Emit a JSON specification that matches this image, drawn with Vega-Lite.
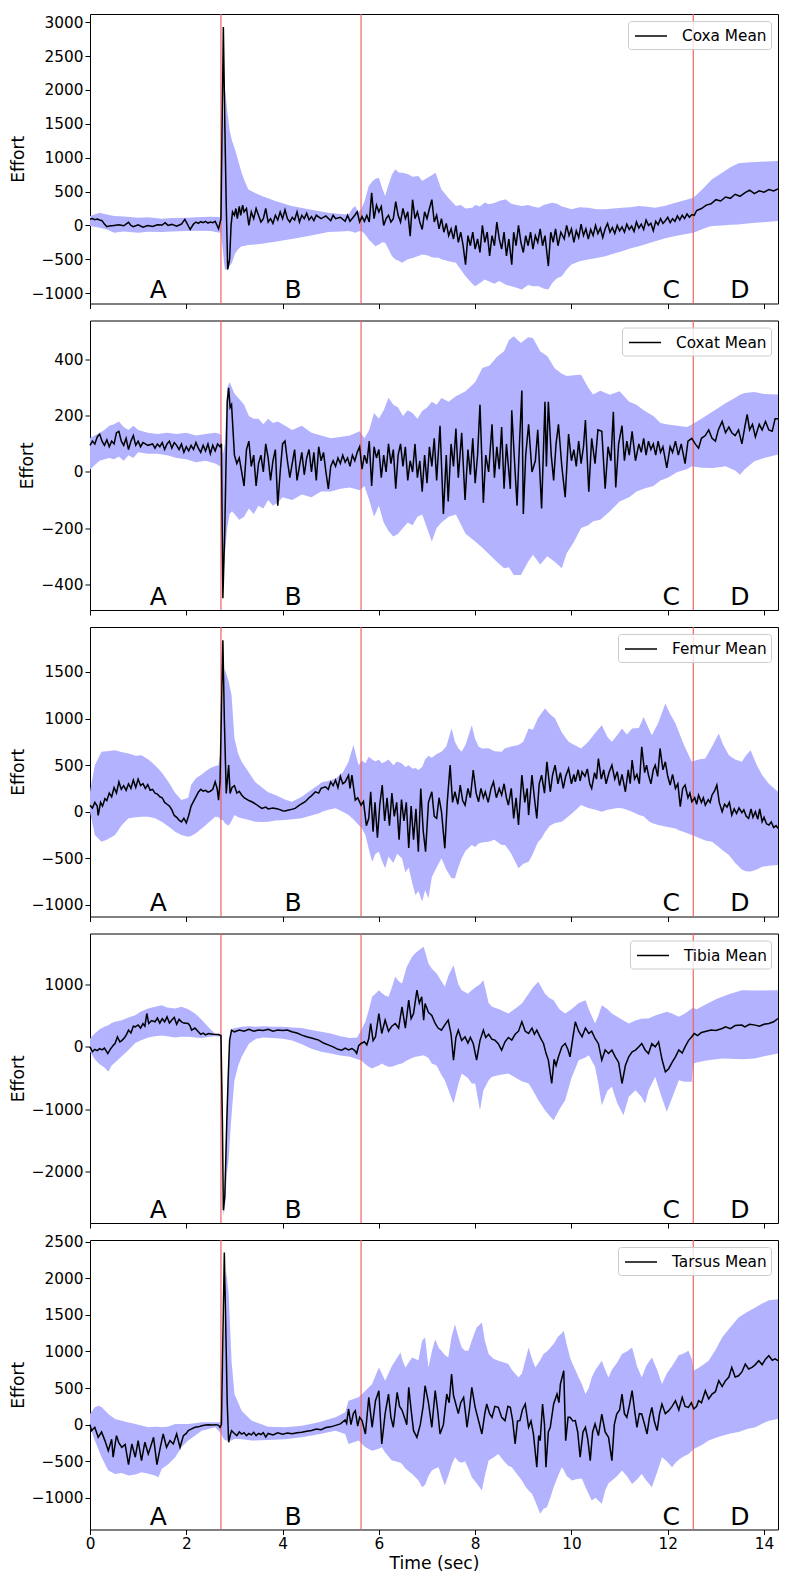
{
"$schema": "https://vega.github.io/schema/vega-lite/v6.json",
"background": "white",
"padding": {"left": 8, "top": 12, "right": 10, "bottom": 5},
"config": {
  "font": "DejaVu Sans",
  "view": {"stroke": "#000", "strokeWidth": 1},
  "axis": {"labelFont": "DejaVu Sans", "labelFontSize": 15.3, "labelColor": "#000", "titleFont": "DejaVu Sans", "titleFontSize": 17.2, "titleFontWeight": "normal", "titleColor": "#000", "tickColor": "#000", "tickSize": 5, "tickWidth": 1, "labelPadding": 2, "domain": false, "grid": false, "labelFlush": false, "labelOverlap": false},
  "axisY": {"titlePadding": 4},
  "axisX": {"titlePadding": 3},
  "legend": {"orient": "top-right", "offset": 7, "padding": 4, "fillColor": "rgba(255,255,255,0.8)", "strokeColor": "#cccccc", "cornerRadius": 3, "labelFont": "DejaVu Sans", "labelFontSize": 15.3, "labelColor": "#000", "symbolType": "M-1.6,0H1.6", "symbolSize": 400, "symbolStrokeWidth": 1.5, "symbolStrokeColor": "#000", "symbolOffset": 8, "labelOffset": 20}
},
"datasets": {
"vl": [{"x":2.72},{"x":5.63},{"x":12.53}],
"lt": [{"x":1.42,"t":"A"},{"x":4.22,"t":"B"},{"x":12.07,"t":"C"},{"x":13.5,"t":"D"}],
"m1": [{"x":0,"m":90},{"x":0.05,"m":100},{"x":0.1,"m":85},{"x":0.15,"m":95},{"x":0.2,"m":80},{"x":0.25,"m":70},{"x":0.3,"m":20},{"x":0.35,"m":-20},{"x":0.4,"m":-10},{"x":0.5,"m":0},{"x":0.6,"m":10},{"x":0.7,"m":-5},{"x":0.8,"m":45},{"x":0.85,"m":0},{"x":0.9,"m":-20},{"x":1.0,"m":10},{"x":1.1,"m":-25},{"x":1.2,"m":0},{"x":1.3,"m":-15},{"x":1.4,"m":10},{"x":1.5,"m":5},{"x":1.56,"m":40},{"x":1.62,"m":0},{"x":1.7,"m":15},{"x":1.8,"m":-10},{"x":1.9,"m":20},{"x":1.97,"m":90},{"x":2.03,"m":10},{"x":2.08,"m":-60},{"x":2.15,"m":20},{"x":2.2,"m":50},{"x":2.25,"m":30},{"x":2.3,"m":55},{"x":2.35,"m":40},{"x":2.4,"m":60},{"x":2.45,"m":35},{"x":2.5,"m":50},{"x":2.55,"m":40},{"x":2.6,"m":60},{"x":2.67,"m":-50},{"x":2.72,"m":100},{"x":2.77,"m":2930},{"x":2.8,"m":1500},{"x":2.83,"m":300},{"x":2.86,"m":-650},{"x":2.9,"m":-500},{"x":2.93,"m":0},{"x":2.96,"m":200},{"x":3.0,"m":150},{"x":3.03,"m":250},{"x":3.06,"m":100},{"x":3.1,"m":280},{"x":3.13,"m":150},{"x":3.17,"m":300},{"x":3.2,"m":200},{"x":3.25,"m":250},{"x":3.3,"m":0},{"x":3.35,"m":200},{"x":3.4,"m":100},{"x":3.45,"m":250},{"x":3.5,"m":150},{"x":3.55,"m":50},{"x":3.6,"m":100},{"x":3.65,"m":250},{"x":3.7,"m":50},{"x":3.75,"m":100},{"x":3.8,"m":30},{"x":3.85,"m":150},{"x":3.9,"m":80},{"x":3.95,"m":200},{"x":4.0,"m":100},{"x":4.05,"m":230},{"x":4.1,"m":100},{"x":4.15,"m":50},{"x":4.2,"m":120},{"x":4.25,"m":80},{"x":4.3,"m":200},{"x":4.35,"m":50},{"x":4.4,"m":150},{"x":4.45,"m":100},{"x":4.5,"m":180},{"x":4.55,"m":80},{"x":4.6,"m":130},{"x":4.65,"m":70},{"x":4.7,"m":150},{"x":4.8,"m":100},{"x":4.9,"m":140},{"x":5.0,"m":70},{"x":5.05,"m":150},{"x":5.1,"m":100},{"x":5.2,"m":120},{"x":5.3,"m":60},{"x":5.35,"m":150},{"x":5.4,"m":60},{"x":5.5,"m":150},{"x":5.55,"m":200},{"x":5.6,"m":50},{"x":5.65,"m":130},{"x":5.7,"m":60},{"x":5.75,"m":150},{"x":5.8,"m":50},{"x":5.85,"m":480},{"x":5.9,"m":100},{"x":5.95,"m":300},{"x":6.0,"m":200},{"x":6.05,"m":280},{"x":6.1,"m":0},{"x":6.15,"m":100},{"x":6.2,"m":150},{"x":6.25,"m":50},{"x":6.3,"m":100},{"x":6.35,"m":350},{"x":6.4,"m":150},{"x":6.45,"m":50},{"x":6.5,"m":250},{"x":6.55,"m":100},{"x":6.6,"m":200},{"x":6.65,"m":-160},{"x":6.7,"m":380},{"x":6.75,"m":100},{"x":6.8,"m":200},{"x":6.85,"m":50},{"x":6.9,"m":-60},{"x":6.95,"m":200},{"x":7.0,"m":100},{"x":7.05,"m":250},{"x":7.1,"m":380},{"x":7.15,"m":50},{"x":7.2,"m":150},{"x":7.25,"m":-50},{"x":7.3,"m":100},{"x":7.35,"m":-100},{"x":7.4,"m":30},{"x":7.45,"m":-150},{"x":7.5,"m":-50},{"x":7.55,"m":-200},{"x":7.6,"m":0},{"x":7.65,"m":-250},{"x":7.7,"m":-100},{"x":7.75,"m":-300},{"x":7.8,"m":-580},{"x":7.85,"m":-150},{"x":7.9,"m":-300},{"x":7.95,"m":-100},{"x":8.0,"m":-350},{"x":8.05,"m":-200},{"x":8.1,"m":-400},{"x":8.15,"m":0},{"x":8.2,"m":-250},{"x":8.25,"m":-100},{"x":8.3,"m":-450},{"x":8.35,"m":-150},{"x":8.4,"m":-300},{"x":8.45,"m":50},{"x":8.5,"m":-200},{"x":8.55,"m":-350},{"x":8.6,"m":-100},{"x":8.65,"m":-450},{"x":8.7,"m":-200},{"x":8.76,"m":-580},{"x":8.8,"m":-100},{"x":8.85,"m":-300},{"x":8.9,"m":0},{"x":8.95,"m":-250},{"x":9.0,"m":-400},{"x":9.05,"m":-150},{"x":9.1,"m":-300},{"x":9.15,"m":-100},{"x":9.2,"m":-350},{"x":9.25,"m":-150},{"x":9.3,"m":-250},{"x":9.35,"m":-50},{"x":9.4,"m":-300},{"x":9.45,"m":-150},{"x":9.52,"m":-600},{"x":9.57,"m":-100},{"x":9.62,"m":-250},{"x":9.67,"m":-50},{"x":9.72,"m":-300},{"x":9.78,"m":-100},{"x":9.85,"m":-200},{"x":9.9,"m":0},{"x":9.95,"m":-150},{"x":10.0,"m":-50},{"x":10.05,"m":-250},{"x":10.1,"m":-80},{"x":10.15,"m":-180},{"x":10.2,"m":20},{"x":10.25,"m":-150},{"x":10.3,"m":-50},{"x":10.35,"m":-200},{"x":10.4,"m":-60},{"x":10.45,"m":-150},{"x":10.5,"m":0},{"x":10.55,"m":-120},{"x":10.6,"m":-40},{"x":10.65,"m":-180},{"x":10.7,"m":-50},{"x":10.75,"m":30},{"x":10.8,"m":-100},{"x":10.85,"m":-30},{"x":10.9,"m":-120},{"x":10.95,"m":0},{"x":11.0,"m":-80},{"x":11.05,"m":-20},{"x":11.1,"m":-100},{"x":11.15,"m":20},{"x":11.2,"m":-60},{"x":11.25,"m":-10},{"x":11.3,"m":-90},{"x":11.35,"m":50},{"x":11.4,"m":-40},{"x":11.45,"m":20},{"x":11.5,"m":-60},{"x":11.55,"m":80},{"x":11.6,"m":0},{"x":11.65,"m":30},{"x":11.7,"m":-80},{"x":11.75,"m":60},{"x":11.8,"m":10},{"x":11.85,"m":100},{"x":11.9,"m":30},{"x":11.95,"m":70},{"x":12.0,"m":120},{"x":12.05,"m":40},{"x":12.1,"m":100},{"x":12.15,"m":60},{"x":12.2,"m":140},{"x":12.25,"m":80},{"x":12.3,"m":150},{"x":12.35,"m":100},{"x":12.4,"m":170},{"x":12.45,"m":120},{"x":12.5,"m":160},{"x":12.55,"m":150},{"x":12.6,"m":220},{"x":12.7,"m":250},{"x":12.8,"m":300},{"x":12.9,"m":320},{"x":13.0,"m":380},{"x":13.1,"m":360},{"x":13.2,"m":420},{"x":13.3,"m":400},{"x":13.4,"m":460},{"x":13.5,"m":430},{"x":13.6,"m":480},{"x":13.7,"m":520},{"x":13.8,"m":470},{"x":13.9,"m":510},{"x":14.0,"m":490},{"x":14.1,"m":530},{"x":14.2,"m":510},{"x":14.29,"m":540}],
"b1": [{"x":0,"l":-10,"h":138},{"x":0.2,"l":-35,"h":187},{"x":0.35,"l":-60,"h":160},{"x":0.5,"l":-108,"h":138},{"x":0.7,"l":-90,"h":130},{"x":1.0,"l":-108,"h":113},{"x":1.2,"l":-95,"h":120},{"x":1.5,"l":-99,"h":99},{"x":1.7,"l":-90,"h":110},{"x":2.0,"l":-84,"h":113},{"x":2.2,"l":-80,"h":120},{"x":2.5,"l":-84,"h":128},{"x":2.7,"l":-108,"h":125},{"x":2.72,"l":-100,"h":400},{"x":2.75,"l":-300,"h":1300},{"x":2.8,"l":-650,"h":2050},{"x":2.85,"l":-650,"h":1700},{"x":2.9,"l":-600,"h":1400},{"x":2.95,"l":-550,"h":1250},{"x":3.01,"l":-420,"h":1124},{"x":3.08,"l":-350,"h":950},{"x":3.15,"l":-306,"h":779},{"x":3.22,"l":-300,"h":640},{"x":3.29,"l":-290,"h":532},{"x":3.43,"l":-281,"h":480},{"x":3.57,"l":-270,"h":434},{"x":3.7,"l":-256,"h":400},{"x":3.85,"l":-240,"h":360},{"x":4.12,"l":-207,"h":300},{"x":4.19,"l":-200,"h":286},{"x":4.54,"l":-158,"h":237},{"x":4.95,"l":-99,"h":187},{"x":5.2,"l":-90,"h":170},{"x":5.37,"l":-84,"h":163},{"x":5.45,"l":-95,"h":250},{"x":5.51,"l":-108,"h":286},{"x":5.57,"l":-90,"h":200},{"x":5.63,"l":-84,"h":237},{"x":5.7,"l":-120,"h":350},{"x":5.79,"l":-207,"h":582},{"x":5.86,"l":-260,"h":650},{"x":5.93,"l":-306,"h":690},{"x":6.0,"l":-280,"h":705},{"x":6.07,"l":-250,"h":550},{"x":6.13,"l":-256,"h":434},{"x":6.2,"l":-350,"h":600},{"x":6.27,"l":-453,"h":750},{"x":6.34,"l":-500,"h":828},{"x":6.41,"l":-520,"h":780},{"x":6.48,"l":-552,"h":779},{"x":6.6,"l":-500,"h":760},{"x":6.7,"l":-480,"h":720},{"x":6.82,"l":-453,"h":730},{"x":6.9,"l":-429,"h":656},{"x":7.0,"l":-440,"h":700},{"x":7.1,"l":-470,"h":740},{"x":7.18,"l":-478,"h":779},{"x":7.24,"l":-478,"h":650},{"x":7.3,"l":-500,"h":532},{"x":7.45,"l":-530,"h":400},{"x":7.6,"l":-552,"h":286},{"x":7.7,"l":-650,"h":300},{"x":7.8,"l":-749,"h":250},{"x":7.94,"l":-860,"h":261},{"x":8.0,"l":-897,"h":300},{"x":8.1,"l":-850,"h":280},{"x":8.2,"l":-800,"h":340},{"x":8.28,"l":-823,"h":311},{"x":8.4,"l":-860,"h":330},{"x":8.5,"l":-820,"h":360},{"x":8.63,"l":-873,"h":385},{"x":8.75,"l":-900,"h":320},{"x":8.86,"l":-920,"h":300},{"x":8.97,"l":-947,"h":286},{"x":9.1,"l":-880,"h":300},{"x":9.2,"l":-900,"h":280},{"x":9.32,"l":-897,"h":261},{"x":9.42,"l":-930,"h":300},{"x":9.52,"l":-947,"h":320},{"x":9.6,"l":-850,"h":335},{"x":9.7,"l":-780,"h":320},{"x":9.8,"l":-749,"h":280},{"x":9.9,"l":-650,"h":260},{"x":10.0,"l":-577,"h":237},{"x":10.17,"l":-530,"h":270},{"x":10.35,"l":-503,"h":261},{"x":10.52,"l":-480,"h":240},{"x":10.7,"l":-454,"h":237},{"x":10.87,"l":-420,"h":250},{"x":11.05,"l":-380,"h":261},{"x":11.22,"l":-340,"h":270},{"x":11.4,"l":-306,"h":286},{"x":11.57,"l":-270,"h":275},{"x":11.74,"l":-232,"h":261},{"x":11.95,"l":-190,"h":290},{"x":12.16,"l":-158,"h":335},{"x":12.35,"l":-130,"h":370},{"x":12.53,"l":-108,"h":409},{"x":12.7,"l":-60,"h":520},{"x":12.85,"l":-20,"h":631},{"x":12.92,"l":-10,"h":680},{"x":13.13,"l":0,"h":779},{"x":13.3,"l":10,"h":860},{"x":13.47,"l":15,"h":917},{"x":13.65,"l":30,"h":930},{"x":13.82,"l":39,"h":937},{"x":14.05,"l":50,"h":945},{"x":14.29,"l":64,"h":951}],
"m2": [{"x":0,"m":95},{"x":0.05,"m":110},{"x":0.1,"m":100},{"x":0.15,"m":125},{"x":0.2,"m":135},{"x":0.25,"m":110},{"x":0.3,"m":95},{"x":0.35,"m":115},{"x":0.4,"m":90},{"x":0.45,"m":110},{"x":0.5,"m":100},{"x":0.55,"m":140},{"x":0.6,"m":145},{"x":0.65,"m":110},{"x":0.7,"m":95},{"x":0.75,"m":120},{"x":0.8,"m":80},{"x":0.85,"m":110},{"x":0.9,"m":130},{"x":0.95,"m":95},{"x":1.0,"m":110},{"x":1.05,"m":90},{"x":1.1,"m":105},{"x":1.15,"m":100},{"x":1.2,"m":95},{"x":1.3,"m":100},{"x":1.35,"m":85},{"x":1.4,"m":100},{"x":1.45,"m":90},{"x":1.5,"m":105},{"x":1.55,"m":80},{"x":1.6,"m":100},{"x":1.65,"m":110},{"x":1.7,"m":85},{"x":1.75,"m":105},{"x":1.8,"m":95},{"x":1.85,"m":80},{"x":1.9,"m":100},{"x":1.95,"m":70},{"x":2.0,"m":90},{"x":2.05,"m":75},{"x":2.1,"m":95},{"x":2.15,"m":80},{"x":2.2,"m":105},{"x":2.25,"m":85},{"x":2.3,"m":70},{"x":2.35,"m":95},{"x":2.4,"m":75},{"x":2.45,"m":100},{"x":2.5,"m":65},{"x":2.55,"m":95},{"x":2.6,"m":75},{"x":2.65,"m":100},{"x":2.7,"m":90},{"x":2.73,"m":100},{"x":2.76,"m":-450},{"x":2.8,"m":-200},{"x":2.85,"m":250},{"x":2.88,"m":300},{"x":2.91,"m":230},{"x":2.94,"m":240},{"x":2.97,"m":150},{"x":3.0,"m":60},{"x":3.05,"m":30},{"x":3.1,"m":50},{"x":3.15,"m":0},{"x":3.2,"m":-50},{"x":3.25,"m":80},{"x":3.3,"m":110},{"x":3.35,"m":20},{"x":3.4,"m":60},{"x":3.45,"m":-50},{"x":3.5,"m":30},{"x":3.55,"m":60},{"x":3.6,"m":0},{"x":3.65,"m":100},{"x":3.7,"m":50},{"x":3.75,"m":-30},{"x":3.8,"m":40},{"x":3.85,"m":80},{"x":3.9,"m":-120},{"x":3.95,"m":0},{"x":4.0,"m":100},{"x":4.05,"m":110},{"x":4.1,"m":40},{"x":4.15,"m":-20},{"x":4.2,"m":30},{"x":4.25,"m":80},{"x":4.3,"m":-30},{"x":4.35,"m":20},{"x":4.4,"m":70},{"x":4.45,"m":-10},{"x":4.5,"m":50},{"x":4.55,"m":80},{"x":4.6,"m":0},{"x":4.65,"m":70},{"x":4.7,"m":-30},{"x":4.75,"m":90},{"x":4.8,"m":40},{"x":4.85,"m":70},{"x":4.9,"m":0},{"x":4.95,"m":-60},{"x":5.0,"m":20},{"x":5.05,"m":40},{"x":5.1,"m":20},{"x":5.15,"m":50},{"x":5.2,"m":30},{"x":5.25,"m":60},{"x":5.3,"m":35},{"x":5.35,"m":50},{"x":5.4,"m":20},{"x":5.45,"m":60},{"x":5.5,"m":40},{"x":5.55,"m":70},{"x":5.6,"m":90},{"x":5.65,"m":10},{"x":5.7,"m":60},{"x":5.75,"m":30},{"x":5.8,"m":110},{"x":5.85,"m":-50},{"x":5.9,"m":90},{"x":5.95,"m":50},{"x":6.0,"m":80},{"x":6.05,"m":-20},{"x":6.1,"m":60},{"x":6.15,"m":0},{"x":6.2,"m":100},{"x":6.25,"m":30},{"x":6.3,"m":80},{"x":6.35,"m":-60},{"x":6.4,"m":60},{"x":6.45,"m":100},{"x":6.5,"m":20},{"x":6.55,"m":90},{"x":6.6,"m":-30},{"x":6.65,"m":40},{"x":6.7,"m":0},{"x":6.75,"m":100},{"x":6.8,"m":-20},{"x":6.85,"m":40},{"x":6.9,"m":-70},{"x":6.95,"m":60},{"x":7.0,"m":-40},{"x":7.05,"m":90},{"x":7.1,"m":20},{"x":7.15,"m":120},{"x":7.2,"m":-30},{"x":7.27,"m":165},{"x":7.34,"m":-150},{"x":7.4,"m":60},{"x":7.44,"m":-105},{"x":7.5,"m":100},{"x":7.55,"m":20},{"x":7.6,"m":155},{"x":7.65,"m":-20},{"x":7.72,"m":140},{"x":7.79,"m":-100},{"x":7.85,"m":80},{"x":7.9,"m":-10},{"x":7.95,"m":120},{"x":8.0,"m":-40},{"x":8.05,"m":60},{"x":8.1,"m":240},{"x":8.17,"m":-110},{"x":8.22,"m":60},{"x":8.28,"m":0},{"x":8.35,"m":170},{"x":8.4,"m":-20},{"x":8.45,"m":90},{"x":8.5,"m":10},{"x":8.55,"m":160},{"x":8.6,"m":-60},{"x":8.65,"m":100},{"x":8.73,"m":-60},{"x":8.76,"m":220},{"x":8.82,"m":30},{"x":8.87,"m":-120},{"x":8.92,"m":100},{"x":8.97,"m":290},{"x":9.0,"m":-150},{"x":9.05,"m":60},{"x":9.11,"m":170},{"x":9.18,"m":0},{"x":9.25,"m":40},{"x":9.3,"m":150},{"x":9.38,"m":-130},{"x":9.45,"m":250},{"x":9.48,"m":20},{"x":9.52,"m":250},{"x":9.58,"m":60},{"x":9.63,"m":-30},{"x":9.68,"m":100},{"x":9.73,"m":170},{"x":9.8,"m":20},{"x":9.87,"m":-90},{"x":9.94,"m":135},{"x":10.0,"m":40},{"x":10.05,"m":80},{"x":10.1,"m":20},{"x":10.15,"m":110},{"x":10.2,"m":30},{"x":10.25,"m":90},{"x":10.29,"m":185},{"x":10.36,"m":-70},{"x":10.42,"m":120},{"x":10.49,"m":30},{"x":10.55,"m":150},{"x":10.63,"m":145},{"x":10.7,"m":-60},{"x":10.76,"m":90},{"x":10.82,"m":40},{"x":10.87,"m":215},{"x":10.92,"m":-55},{"x":10.98,"m":100},{"x":11.05,"m":165},{"x":11.1,"m":40},{"x":11.15,"m":110},{"x":11.2,"m":60},{"x":11.26,"m":145},{"x":11.33,"m":40},{"x":11.4,"m":100},{"x":11.45,"m":70},{"x":11.5,"m":120},{"x":11.55,"m":60},{"x":11.6,"m":110},{"x":11.65,"m":80},{"x":11.7,"m":100},{"x":11.75,"m":60},{"x":11.8,"m":110},{"x":11.85,"m":70},{"x":11.9,"m":90},{"x":11.98,"m":15},{"x":12.05,"m":90},{"x":12.1,"m":70},{"x":12.16,"m":110},{"x":12.22,"m":60},{"x":12.28,"m":100},{"x":12.36,"m":30},{"x":12.42,"m":110},{"x":12.5,"m":120},{"x":12.57,"m":100},{"x":12.64,"m":85},{"x":12.7,"m":120},{"x":12.78,"m":130},{"x":12.85,"m":150},{"x":12.92,"m":120},{"x":12.99,"m":110},{"x":13.05,"m":150},{"x":13.13,"m":180},{"x":13.2,"m":140},{"x":13.27,"m":160},{"x":13.33,"m":140},{"x":13.4,"m":130},{"x":13.47,"m":150},{"x":13.54,"m":100},{"x":13.6,"m":160},{"x":13.65,"m":205},{"x":13.7,"m":150},{"x":13.76,"m":170},{"x":13.82,"m":125},{"x":13.9,"m":170},{"x":13.96,"m":150},{"x":14.03,"m":180},{"x":14.1,"m":150},{"x":14.17,"m":145},{"x":14.23,"m":190},{"x":14.29,"m":190}],
"b2": [{"x":0,"l":8,"h":121},{"x":0.1,"l":25,"h":130},{"x":0.2,"l":40,"h":140},{"x":0.3,"l":45,"h":150},{"x":0.4,"l":50,"h":165},{"x":0.5,"l":45,"h":170},{"x":0.6,"l":55,"h":180},{"x":0.7,"l":40,"h":160},{"x":0.8,"l":60,"h":150},{"x":0.9,"l":50,"h":165},{"x":1.0,"l":70,"h":150},{"x":1.2,"l":65,"h":140},{"x":1.4,"l":65,"h":135},{"x":1.6,"l":60,"h":140},{"x":1.8,"l":50,"h":135},{"x":2.0,"l":45,"h":140},{"x":2.2,"l":35,"h":130},{"x":2.4,"l":40,"h":135},{"x":2.6,"l":30,"h":140},{"x":2.7,"l":20,"h":135},{"x":2.73,"l":-100,"h":130},{"x":2.76,"l":-420,"h":60},{"x":2.8,"l":-300,"h":100},{"x":2.85,"l":-200,"h":300},{"x":2.9,"l":-150,"h":320},{"x":2.95,"l":-140,"h":300},{"x":3.0,"l":-150,"h":280},{"x":3.1,"l":-170,"h":260},{"x":3.2,"l":-160,"h":240},{"x":3.3,"l":-130,"h":200},{"x":3.4,"l":-150,"h":190},{"x":3.5,"l":-120,"h":190},{"x":3.6,"l":-130,"h":170},{"x":3.7,"l":-100,"h":190},{"x":3.8,"l":-120,"h":175},{"x":3.9,"l":-110,"h":180},{"x":4.0,"l":-90,"h":170},{"x":4.2,"l":-100,"h":150},{"x":4.4,"l":-80,"h":165},{"x":4.6,"l":-90,"h":140},{"x":4.8,"l":-70,"h":130},{"x":5.0,"l":-70,"h":120},{"x":5.2,"l":-60,"h":125},{"x":5.4,"l":-55,"h":130},{"x":5.6,"l":-65,"h":145},{"x":5.7,"l":-50,"h":120},{"x":5.8,"l":-100,"h":150},{"x":5.9,"l":-160,"h":210},{"x":6.0,"l":-120,"h":190},{"x":6.1,"l":-180,"h":220},{"x":6.2,"l":-210,"h":265},{"x":6.3,"l":-230,"h":240},{"x":6.4,"l":-220,"h":230},{"x":6.5,"l":-200,"h":200},{"x":6.6,"l":-180,"h":220},{"x":6.7,"l":-190,"h":210},{"x":6.8,"l":-160,"h":190},{"x":6.9,"l":-152,"h":217},{"x":7.0,"l":-200,"h":230},{"x":7.1,"l":-248,"h":250},{"x":7.2,"l":-200,"h":240},{"x":7.3,"l":-180,"h":264},{"x":7.45,"l":-160,"h":250},{"x":7.6,"l":-152,"h":270},{"x":7.8,"l":-220,"h":288},{"x":8.0,"l":-248,"h":320},{"x":8.15,"l":-270,"h":371},{"x":8.3,"l":-295,"h":380},{"x":8.45,"l":-320,"h":410},{"x":8.6,"l":-343,"h":430},{"x":8.7,"l":-340,"h":470},{"x":8.8,"l":-367,"h":484},{"x":8.95,"l":-367,"h":460},{"x":9.1,"l":-320,"h":480},{"x":9.2,"l":-295,"h":478},{"x":9.35,"l":-330,"h":430},{"x":9.5,"l":-300,"h":413},{"x":9.65,"l":-320,"h":370},{"x":9.8,"l":-343,"h":350},{"x":9.9,"l":-290,"h":342},{"x":10.05,"l":-250,"h":345},{"x":10.2,"l":-200,"h":347},{"x":10.35,"l":-190,"h":300},{"x":10.45,"l":-176,"h":276},{"x":10.6,"l":-170,"h":290},{"x":10.8,"l":-140,"h":275},{"x":11.0,"l":-105,"h":288},{"x":11.2,"l":-90,"h":250},{"x":11.35,"l":-70,"h":240},{"x":11.5,"l":-60,"h":220},{"x":11.7,"l":-50,"h":200},{"x":11.85,"l":-30,"h":175},{"x":12.0,"l":-21,"h":169},{"x":12.2,"l":0,"h":165},{"x":12.4,"l":10,"h":160},{"x":12.5,"l":20,"h":169},{"x":12.7,"l":15,"h":190},{"x":12.95,"l":14,"h":217},{"x":13.2,"l":20,"h":245},{"x":13.4,"l":5,"h":265},{"x":13.5,"l":-10,"h":275},{"x":13.6,"l":10,"h":282},{"x":13.8,"l":38,"h":285},{"x":14.0,"l":50,"h":278},{"x":14.29,"l":62,"h":276}],
"m3": [{"x":0,"m":70},{"x":0.05,"m":40},{"x":0.1,"m":100},{"x":0.15,"m":60},{"x":0.17,"m":-40},{"x":0.22,"m":100},{"x":0.26,"m":60},{"x":0.31,"m":140},{"x":0.35,"m":120},{"x":0.4,"m":200},{"x":0.45,"m":160},{"x":0.5,"m":260},{"x":0.55,"m":200},{"x":0.6,"m":320},{"x":0.65,"m":240},{"x":0.7,"m":280},{"x":0.75,"m":230},{"x":0.8,"m":300},{"x":0.85,"m":250},{"x":0.9,"m":340},{"x":0.95,"m":260},{"x":1.0,"m":350},{"x":1.05,"m":280},{"x":1.1,"m":300},{"x":1.15,"m":250},{"x":1.2,"m":290},{"x":1.25,"m":230},{"x":1.3,"m":240},{"x":1.35,"m":200},{"x":1.4,"m":190},{"x":1.45,"m":160},{"x":1.5,"m":150},{"x":1.55,"m":100},{"x":1.6,"m":80},{"x":1.65,"m":60},{"x":1.7,"m":20},{"x":1.75,"m":-40},{"x":1.8,"m":-60},{"x":1.85,"m":-90},{"x":1.9,"m":-110},{"x":1.95,"m":-70},{"x":2.0,"m":-120},{"x":2.05,"m":-40},{"x":2.1,"m":60},{"x":2.15,"m":110},{"x":2.2,"m":160},{"x":2.25,"m":210},{"x":2.3,"m":240},{"x":2.35,"m":220},{"x":2.4,"m":230},{"x":2.45,"m":210},{"x":2.5,"m":220},{"x":2.55,"m":240},{"x":2.6,"m":320},{"x":2.64,"m":250},{"x":2.67,"m":125},{"x":2.7,"m":320},{"x":2.76,"m":1840},{"x":2.79,"m":1000},{"x":2.83,"m":196},{"x":2.88,"m":500},{"x":2.91,"m":196},{"x":2.95,"m":260},{"x":3.0,"m":280},{"x":3.05,"m":200},{"x":3.1,"m":220},{"x":3.15,"m":180},{"x":3.2,"m":150},{"x":3.3,"m":120},{"x":3.36,"m":107},{"x":3.45,"m":80},{"x":3.5,"m":60},{"x":3.57,"m":36},{"x":3.65,"m":50},{"x":3.7,"m":30},{"x":3.8,"m":40},{"x":3.9,"m":30},{"x":4.0,"m":10},{"x":4.05,"m":7},{"x":4.15,"m":20},{"x":4.26,"m":36},{"x":4.35,"m":70},{"x":4.47,"m":107},{"x":4.55,"m":150},{"x":4.6,"m":170},{"x":4.68,"m":214},{"x":4.75,"m":200},{"x":4.8,"m":250},{"x":4.89,"m":268},{"x":4.95,"m":240},{"x":5.0,"m":320},{"x":5.05,"m":280},{"x":5.1,"m":340},{"x":5.15,"m":260},{"x":5.2,"m":380},{"x":5.25,"m":300},{"x":5.3,"m":320},{"x":5.37,"m":390},{"x":5.4,"m":250},{"x":5.44,"m":393},{"x":5.51,"m":125},{"x":5.56,"m":150},{"x":5.63,"m":71},{"x":5.68,"m":110},{"x":5.74,"m":-150},{"x":5.79,"m":-71},{"x":5.83,"m":214},{"x":5.88,"m":-214},{"x":5.92,"m":100},{"x":5.97,"m":-280},{"x":6.02,"m":80},{"x":6.07,"m":286},{"x":6.12,"m":-100},{"x":6.17,"m":150},{"x":6.22,"m":-150},{"x":6.27,"m":200},{"x":6.32,"m":-50},{"x":6.37,"m":100},{"x":6.42,"m":-300},{"x":6.47,"m":130},{"x":6.52,"m":-100},{"x":6.57,"m":100},{"x":6.62,"m":-390},{"x":6.67,"m":60},{"x":6.72,"m":-300},{"x":6.77,"m":30},{"x":6.82,"m":-430},{"x":6.87,"m":250},{"x":6.92,"m":-200},{"x":6.97,"m":-430},{"x":7.03,"m":100},{"x":7.1,"m":214},{"x":7.15,"m":-50},{"x":7.2,"m":-71},{"x":7.25,"m":150},{"x":7.3,"m":0},{"x":7.37,"m":-393},{"x":7.42,"m":100},{"x":7.48,"m":500},{"x":7.53,"m":100},{"x":7.58,"m":214},{"x":7.64,"m":80},{"x":7.69,"m":286},{"x":7.74,"m":120},{"x":7.79,"m":71},{"x":7.85,"m":250},{"x":7.9,"m":150},{"x":7.96,"m":447},{"x":8.02,"m":200},{"x":8.07,"m":107},{"x":8.12,"m":250},{"x":8.17,"m":150},{"x":8.21,"m":214},{"x":8.27,"m":100},{"x":8.33,"m":250},{"x":8.38,"m":321},{"x":8.44,"m":150},{"x":8.5,"m":250},{"x":8.55,"m":179},{"x":8.6,"m":300},{"x":8.65,"m":150},{"x":8.69,"m":71},{"x":8.75,"m":250},{"x":8.8,"m":-71},{"x":8.85,"m":150},{"x":8.9,"m":-143},{"x":8.97,"m":393},{"x":9.03,"m":100},{"x":9.08,"m":250},{"x":9.11,"m":-36},{"x":9.18,"m":393},{"x":9.23,"m":150},{"x":9.28,"m":-71},{"x":9.33,"m":300},{"x":9.38,"m":393},{"x":9.44,"m":200},{"x":9.49,"m":536},{"x":9.56,"m":214},{"x":9.61,"m":400},{"x":9.66,"m":500},{"x":9.72,"m":300},{"x":9.77,"m":420},{"x":9.83,"m":250},{"x":9.88,"m":380},{"x":9.94,"m":464},{"x":10.0,"m":300},{"x":10.05,"m":400},{"x":10.08,"m":321},{"x":10.14,"m":450},{"x":10.18,"m":330},{"x":10.22,"m":429},{"x":10.28,"m":380},{"x":10.33,"m":460},{"x":10.38,"m":300},{"x":10.42,"m":250},{"x":10.48,"m":420},{"x":10.52,"m":350},{"x":10.56,"m":571},{"x":10.62,"m":350},{"x":10.67,"m":450},{"x":10.72,"m":300},{"x":10.78,"m":420},{"x":10.84,"m":500},{"x":10.9,"m":350},{"x":10.95,"m":430},{"x":11.0,"m":280},{"x":11.05,"m":400},{"x":11.12,"m":214},{"x":11.18,"m":450},{"x":11.22,"m":300},{"x":11.26,"m":554},{"x":11.31,"m":350},{"x":11.36,"m":400},{"x":11.41,"m":300},{"x":11.46,"m":697},{"x":11.52,"m":420},{"x":11.56,"m":500},{"x":11.6,"m":393},{"x":11.65,"m":300},{"x":11.7,"m":450},{"x":11.74,"m":500},{"x":11.79,"m":380},{"x":11.84,"m":679},{"x":11.9,"m":450},{"x":11.95,"m":536},{"x":12.0,"m":380},{"x":12.05,"m":286},{"x":12.1,"m":400},{"x":12.16,"m":250},{"x":12.21,"m":300},{"x":12.26,"m":54},{"x":12.31,"m":250},{"x":12.36,"m":286},{"x":12.42,"m":150},{"x":12.46,"m":200},{"x":12.5,"m":107},{"x":12.56,"m":150},{"x":12.6,"m":80},{"x":12.64,"m":179},{"x":12.7,"m":100},{"x":12.74,"m":150},{"x":12.78,"m":71},{"x":12.84,"m":130},{"x":12.88,"m":100},{"x":12.92,"m":180},{"x":12.97,"m":220},{"x":13.02,"m":286},{"x":13.07,"m":100},{"x":13.13,"m":0},{"x":13.18,"m":80},{"x":13.23,"m":50},{"x":13.28,"m":100},{"x":13.33,"m":-36},{"x":13.38,"m":30},{"x":13.43,"m":-20},{"x":13.48,"m":40},{"x":13.54,"m":-10},{"x":13.58,"m":20},{"x":13.63,"m":-50},{"x":13.68,"m":-71},{"x":13.73,"m":30},{"x":13.77,"m":-60},{"x":13.82,"m":0},{"x":13.87,"m":-80},{"x":13.91,"m":30},{"x":13.96,"m":-107},{"x":14.0,"m":-60},{"x":14.05,"m":-130},{"x":14.1,"m":-143},{"x":14.15,"m":-110},{"x":14.2,"m":-170},{"x":14.25,"m":-150},{"x":14.29,"m":-179}],
"b3": [{"x":0,"l":0,"h":214},{"x":0.1,"l":-250,"h":500},{"x":0.24,"l":-322,"h":643},{"x":0.35,"l":-300,"h":650},{"x":0.52,"l":-250,"h":661},{"x":0.65,"l":-150,"h":640},{"x":0.8,"l":-71,"h":625},{"x":0.95,"l":-60,"h":600},{"x":1.07,"l":-55,"h":607},{"x":1.21,"l":-54,"h":560},{"x":1.35,"l":-70,"h":500},{"x":1.49,"l":-107,"h":420},{"x":1.63,"l":-160,"h":320},{"x":1.77,"l":-214,"h":200},{"x":1.9,"l":-250,"h":125},{"x":2.04,"l":-268,"h":150},{"x":2.1,"l":-260,"h":286},{"x":2.2,"l":-230,"h":360},{"x":2.32,"l":-179,"h":400},{"x":2.39,"l":-150,"h":429},{"x":2.5,"l":-100,"h":470},{"x":2.6,"l":-54,"h":490},{"x":2.67,"l":-60,"h":500},{"x":2.72,"l":-89,"h":650},{"x":2.76,"l":-89,"h":1300},{"x":2.8,"l":-125,"h":1536},{"x":2.88,"l":-150,"h":1400},{"x":2.94,"l":-100,"h":1250},{"x":3.0,"l":-36,"h":786},{"x":3.08,"l":-60,"h":620},{"x":3.15,"l":-71,"h":536},{"x":3.3,"l":-90,"h":420},{"x":3.43,"l":-107,"h":320},{"x":3.6,"l":-110,"h":250},{"x":3.7,"l":-107,"h":210},{"x":3.85,"l":-95,"h":179},{"x":4.05,"l":-89,"h":130},{"x":4.19,"l":-80,"h":107},{"x":4.4,"l":-71,"h":160},{"x":4.54,"l":-50,"h":214},{"x":4.75,"l":-18,"h":290},{"x":4.82,"l":0,"h":320},{"x":4.95,"l":20,"h":330},{"x":5.1,"l":36,"h":357},{"x":5.25,"l":0,"h":420},{"x":5.37,"l":-36,"h":536},{"x":5.47,"l":-80,"h":715},{"x":5.58,"l":-143,"h":500},{"x":5.65,"l":-180,"h":550},{"x":5.72,"l":-250,"h":520},{"x":5.79,"l":-400,"h":590},{"x":5.86,"l":-536,"h":560},{"x":5.93,"l":-450,"h":540},{"x":6.0,"l":-429,"h":560},{"x":6.06,"l":-520,"h":520},{"x":6.13,"l":-607,"h":536},{"x":6.2,"l":-480,"h":560},{"x":6.3,"l":-550,"h":500},{"x":6.38,"l":-450,"h":540},{"x":6.48,"l":-500,"h":518},{"x":6.55,"l":-650,"h":480},{"x":6.62,"l":-600,"h":500},{"x":6.7,"l":-780,"h":460},{"x":6.76,"l":-893,"h":470},{"x":6.82,"l":-850,"h":447},{"x":6.9,"l":-965,"h":480},{"x":6.96,"l":-840,"h":560},{"x":7.03,"l":-929,"h":600},{"x":7.1,"l":-700,"h":580},{"x":7.2,"l":-600,"h":620},{"x":7.3,"l":-500,"h":643},{"x":7.4,"l":-620,"h":700},{"x":7.51,"l":-715,"h":893},{"x":7.58,"l":-715,"h":750},{"x":7.65,"l":-600,"h":680},{"x":7.72,"l":-500,"h":643},{"x":7.8,"l":-420,"h":720},{"x":7.93,"l":-357,"h":929},{"x":8.0,"l":-380,"h":780},{"x":8.07,"l":-340,"h":700},{"x":8.14,"l":-330,"h":679},{"x":8.28,"l":-322,"h":680},{"x":8.4,"l":-300,"h":650},{"x":8.55,"l":-357,"h":643},{"x":8.62,"l":-357,"h":680},{"x":8.75,"l":-450,"h":700},{"x":8.9,"l":-607,"h":715},{"x":9.0,"l":-560,"h":750},{"x":9.11,"l":-536,"h":893},{"x":9.2,"l":-450,"h":880},{"x":9.3,"l":-330,"h":1000},{"x":9.38,"l":-286,"h":1060},{"x":9.45,"l":-220,"h":1108},{"x":9.55,"l":-150,"h":1050},{"x":9.66,"l":-120,"h":1000},{"x":9.8,"l":-107,"h":850},{"x":9.94,"l":-50,"h":750},{"x":10.05,"l":0,"h":720},{"x":10.2,"l":71,"h":679},{"x":10.35,"l":40,"h":750},{"x":10.5,"l":20,"h":850},{"x":10.63,"l":0,"h":929},{"x":10.75,"l":20,"h":800},{"x":10.84,"l":30,"h":750},{"x":10.95,"l":40,"h":820},{"x":11.05,"l":36,"h":893},{"x":11.15,"l":20,"h":830},{"x":11.26,"l":0,"h":893},{"x":11.4,"l":-36,"h":900},{"x":11.5,"l":-50,"h":1018},{"x":11.6,"l":-100,"h":900},{"x":11.67,"l":-120,"h":822},{"x":11.8,"l":-143,"h":950},{"x":11.95,"l":-160,"h":1161},{"x":12.05,"l":-170,"h":1050},{"x":12.16,"l":-179,"h":950},{"x":12.23,"l":-200,"h":857},{"x":12.35,"l":-220,"h":700},{"x":12.5,"l":-250,"h":536},{"x":12.64,"l":-280,"h":560},{"x":12.78,"l":-310,"h":572},{"x":12.92,"l":-322,"h":700},{"x":13.06,"l":-380,"h":840},{"x":13.15,"l":-420,"h":720},{"x":13.27,"l":-465,"h":607},{"x":13.4,"l":-550,"h":560},{"x":13.54,"l":-620,"h":536},{"x":13.62,"l":-640,"h":600},{"x":13.72,"l":-643,"h":661},{"x":13.85,"l":-620,"h":500},{"x":13.96,"l":-590,"h":393},{"x":14.1,"l":-580,"h":300},{"x":14.29,"l":-572,"h":214}],
"m4": [{"x":0,"m":0},{"x":0.05,"m":-80},{"x":0.1,"m":-40},{"x":0.15,"m":-60},{"x":0.2,"m":-30},{"x":0.25,"m":-50},{"x":0.3,"m":-20},{"x":0.37,"m":-107},{"x":0.42,"m":-40},{"x":0.48,"m":20},{"x":0.52,"m":53},{"x":0.57,"m":160},{"x":0.62,"m":80},{"x":0.66,"m":100},{"x":0.72,"m":150},{"x":0.76,"m":200},{"x":0.8,"m":267},{"x":0.85,"m":220},{"x":0.9,"m":330},{"x":0.94,"m":320},{"x":1.0,"m":350},{"x":1.05,"m":300},{"x":1.1,"m":370},{"x":1.14,"m":330},{"x":1.18,"m":533},{"x":1.22,"m":373},{"x":1.28,"m":420},{"x":1.35,"m":400},{"x":1.4,"m":460},{"x":1.45,"m":380},{"x":1.5,"m":450},{"x":1.55,"m":400},{"x":1.6,"m":480},{"x":1.65,"m":380},{"x":1.7,"m":430},{"x":1.75,"m":470},{"x":1.8,"m":360},{"x":1.85,"m":440},{"x":1.9,"m":400},{"x":1.95,"m":380},{"x":2.04,"m":373},{"x":2.08,"m":330},{"x":2.11,"m":267},{"x":2.18,"m":300},{"x":2.25,"m":240},{"x":2.3,"m":200},{"x":2.35,"m":220},{"x":2.4,"m":190},{"x":2.46,"m":213},{"x":2.55,"m":200},{"x":2.67,"m":197},{"x":2.72,"m":180},{"x":2.75,"m":-1200},{"x":2.77,"m":-2613},{"x":2.8,"m":-2400},{"x":2.84,"m":-1227},{"x":2.87,"m":-500},{"x":2.9,"m":107},{"x":2.94,"m":267},{"x":3.0,"m":240},{"x":3.1,"m":270},{"x":3.2,"m":250},{"x":3.3,"m":280},{"x":3.4,"m":250},{"x":3.5,"m":270},{"x":3.6,"m":260},{"x":3.7,"m":280},{"x":3.8,"m":250},{"x":3.9,"m":270},{"x":4.0,"m":260},{"x":4.1,"m":270},{"x":4.19,"m":240},{"x":4.3,"m":220},{"x":4.4,"m":187},{"x":4.5,"m":160},{"x":4.6,"m":140},{"x":4.75,"m":107},{"x":4.85,"m":60},{"x":4.96,"m":27},{"x":5.05,"m":0},{"x":5.15,"m":-40},{"x":5.23,"m":-53},{"x":5.3,"m":-20},{"x":5.37,"m":-50},{"x":5.44,"m":-27},{"x":5.5,"m":-60},{"x":5.54,"m":-107},{"x":5.58,"m":20},{"x":5.63,"m":53},{"x":5.7,"m":80},{"x":5.75,"m":30},{"x":5.79,"m":133},{"x":5.83,"m":373},{"x":5.88,"m":100},{"x":5.93,"m":160},{"x":6.0,"m":533},{"x":6.06,"m":213},{"x":6.13,"m":427},{"x":6.2,"m":250},{"x":6.27,"m":330},{"x":6.34,"m":373},{"x":6.41,"m":300},{"x":6.48,"m":640},{"x":6.55,"m":300},{"x":6.62,"m":747},{"x":6.67,"m":450},{"x":6.72,"m":533},{"x":6.79,"m":907},{"x":6.84,"m":700},{"x":6.89,"m":800},{"x":6.93,"m":427},{"x":6.96,"m":693},{"x":7.03,"m":550},{"x":7.1,"m":500},{"x":7.17,"m":373},{"x":7.23,"m":300},{"x":7.3,"m":267},{"x":7.37,"m":350},{"x":7.44,"m":427},{"x":7.5,"m":200},{"x":7.55,"m":-213},{"x":7.6,"m":150},{"x":7.65,"m":267},{"x":7.72,"m":100},{"x":7.79,"m":160},{"x":7.85,"m":60},{"x":7.9,"m":150},{"x":7.96,"m":53},{"x":8.03,"m":-213},{"x":8.1,"m":100},{"x":8.17,"m":267},{"x":8.22,"m":150},{"x":8.28,"m":200},{"x":8.35,"m":120},{"x":8.41,"m":107},{"x":8.48,"m":50},{"x":8.55,"m":-53},{"x":8.62,"m":80},{"x":8.69,"m":150},{"x":8.76,"m":107},{"x":8.83,"m":200},{"x":8.9,"m":250},{"x":8.97,"m":400},{"x":9.04,"m":250},{"x":9.11,"m":213},{"x":9.18,"m":300},{"x":9.23,"m":200},{"x":9.28,"m":267},{"x":9.35,"m":150},{"x":9.42,"m":53},{"x":9.47,"m":-100},{"x":9.52,"m":-213},{"x":9.59,"m":-587},{"x":9.64,"m":-200},{"x":9.68,"m":-300},{"x":9.73,"m":-160},{"x":9.8,"m":0},{"x":9.87,"m":53},{"x":9.93,"m":-50},{"x":9.97,"m":-160},{"x":10.03,"m":150},{"x":10.08,"m":400},{"x":10.15,"m":250},{"x":10.22,"m":160},{"x":10.29,"m":300},{"x":10.36,"m":213},{"x":10.42,"m":250},{"x":10.49,"m":133},{"x":10.56,"m":50},{"x":10.63,"m":-213},{"x":10.7,"m":-50},{"x":10.77,"m":-107},{"x":10.84,"m":-50},{"x":10.91,"m":-160},{"x":10.98,"m":-250},{"x":11.05,"m":-587},{"x":11.12,"m":-300},{"x":11.19,"m":-160},{"x":11.26,"m":-80},{"x":11.33,"m":-53},{"x":11.4,"m":0},{"x":11.46,"m":53},{"x":11.53,"m":-50},{"x":11.6,"m":-107},{"x":11.67,"m":50},{"x":11.74,"m":0},{"x":11.81,"m":80},{"x":11.88,"m":-200},{"x":11.95,"m":-400},{"x":12.02,"m":-350},{"x":12.09,"m":-250},{"x":12.16,"m":-160},{"x":12.23,"m":-50},{"x":12.3,"m":-100},{"x":12.36,"m":0},{"x":12.43,"m":100},{"x":12.5,"m":160},{"x":12.55,"m":213},{"x":12.62,"m":180},{"x":12.7,"m":230},{"x":12.8,"m":250},{"x":12.9,"m":270},{"x":13.0,"m":260},{"x":13.13,"m":293},{"x":13.2,"m":320},{"x":13.3,"m":290},{"x":13.4,"m":340},{"x":13.54,"m":347},{"x":13.6,"m":320},{"x":13.7,"m":360},{"x":13.82,"m":347},{"x":13.9,"m":330},{"x":14.0,"m":360},{"x":14.1,"m":373},{"x":14.2,"m":400},{"x":14.29,"m":453}],
"b4": [{"x":0,"l":-80,"h":133},{"x":0.1,"l":-200,"h":213},{"x":0.2,"l":-280,"h":280},{"x":0.3,"l":-330,"h":320},{"x":0.38,"l":-400,"h":347},{"x":0.45,"l":-300,"h":380},{"x":0.52,"l":-250,"h":400},{"x":0.66,"l":-150,"h":427},{"x":0.8,"l":-50,"h":470},{"x":0.94,"l":60,"h":507},{"x":1.05,"l":100,"h":560},{"x":1.21,"l":150,"h":613},{"x":1.35,"l":170,"h":640},{"x":1.49,"l":180,"h":667},{"x":1.6,"l":170,"h":630},{"x":1.77,"l":150,"h":613},{"x":1.9,"l":160,"h":640},{"x":2.04,"l":160,"h":600},{"x":2.18,"l":150,"h":533},{"x":2.3,"l":140,"h":450},{"x":2.39,"l":150,"h":373},{"x":2.5,"l":160,"h":280},{"x":2.6,"l":170,"h":213},{"x":2.7,"l":160,"h":190},{"x":2.73,"l":100,"h":190},{"x":2.75,"l":-1400,"h":-1000},{"x":2.77,"l":-2700,"h":-2500},{"x":2.8,"l":-2600,"h":-2200},{"x":2.84,"l":-2050,"h":-1000},{"x":2.88,"l":-1800,"h":-200},{"x":2.92,"l":-1300,"h":250},{"x":2.96,"l":-900,"h":290},{"x":3.0,"l":-533,"h":300},{"x":3.08,"l":-300,"h":310},{"x":3.15,"l":-160,"h":320},{"x":3.3,"l":50,"h":330},{"x":3.45,"l":130,"h":320},{"x":3.6,"l":150,"h":330},{"x":3.8,"l":140,"h":320},{"x":4.0,"l":130,"h":320},{"x":4.2,"l":100,"h":310},{"x":4.4,"l":40,"h":300},{"x":4.6,"l":-30,"h":270},{"x":4.8,"l":-80,"h":240},{"x":5.0,"l":-107,"h":213},{"x":5.2,"l":-140,"h":170},{"x":5.4,"l":-160,"h":140},{"x":5.55,"l":-200,"h":150},{"x":5.63,"l":-213,"h":267},{"x":5.72,"l":-280,"h":400},{"x":5.79,"l":-320,"h":587},{"x":5.86,"l":-347,"h":800},{"x":5.93,"l":-320,"h":850},{"x":6.0,"l":-300,"h":907},{"x":6.06,"l":-267,"h":860},{"x":6.13,"l":-300,"h":820},{"x":6.2,"l":-320,"h":800},{"x":6.27,"l":-320,"h":950},{"x":6.34,"l":-300,"h":1120},{"x":6.41,"l":-280,"h":1050},{"x":6.48,"l":-267,"h":1013},{"x":6.58,"l":-220,"h":1280},{"x":6.69,"l":-180,"h":1440},{"x":6.76,"l":-160,"h":1500},{"x":6.83,"l":-150,"h":1547},{"x":6.93,"l":-133,"h":1600},{"x":7.03,"l":-180,"h":1333},{"x":7.1,"l":-267,"h":1250},{"x":7.2,"l":-300,"h":1173},{"x":7.3,"l":-450,"h":1050},{"x":7.37,"l":-533,"h":960},{"x":7.45,"l":-700,"h":1150},{"x":7.55,"l":-907,"h":1307},{"x":7.65,"l":-600,"h":1000},{"x":7.72,"l":-427,"h":907},{"x":7.85,"l":-500,"h":850},{"x":7.93,"l":-587,"h":907},{"x":8.0,"l":-587,"h":950},{"x":8.1,"l":-1013,"h":1000},{"x":8.17,"l":-700,"h":1067},{"x":8.28,"l":-533,"h":700},{"x":8.35,"l":-480,"h":640},{"x":8.5,"l":-450,"h":600},{"x":8.69,"l":-427,"h":533},{"x":8.85,"l":-500,"h":620},{"x":8.97,"l":-550,"h":693},{"x":9.11,"l":-587,"h":850},{"x":9.2,"l":-700,"h":950},{"x":9.31,"l":-850,"h":1040},{"x":9.45,"l":-1013,"h":850},{"x":9.54,"l":-1100,"h":780},{"x":9.63,"l":-1173,"h":747},{"x":9.75,"l":-1000,"h":600},{"x":9.87,"l":-853,"h":533},{"x":10.0,"l":-500,"h":600},{"x":10.15,"l":-213,"h":700},{"x":10.29,"l":-170,"h":747},{"x":10.36,"l":-133,"h":600},{"x":10.49,"l":-320,"h":373},{"x":10.56,"l":-600,"h":500},{"x":10.63,"l":-933,"h":667},{"x":10.75,"l":-700,"h":600},{"x":10.84,"l":-640,"h":533},{"x":10.95,"l":-900,"h":480},{"x":11.08,"l":-1093,"h":420},{"x":11.19,"l":-800,"h":373},{"x":11.33,"l":-693,"h":420},{"x":11.45,"l":-800,"h":450},{"x":11.53,"l":-907,"h":453},{"x":11.6,"l":-700,"h":453},{"x":11.74,"l":-480,"h":500},{"x":11.85,"l":-750,"h":530},{"x":11.98,"l":-1040,"h":560},{"x":12.1,"l":-800,"h":530},{"x":12.23,"l":-533,"h":480},{"x":12.35,"l":-560,"h":530},{"x":12.5,"l":-560,"h":613},{"x":12.53,"l":-267,"h":620},{"x":12.6,"l":-250,"h":600},{"x":12.8,"l":-220,"h":680},{"x":13.0,"l":-200,"h":760},{"x":13.13,"l":-187,"h":800},{"x":13.3,"l":-190,"h":850},{"x":13.54,"l":-200,"h":907},{"x":13.8,"l":-187,"h":900},{"x":14.0,"l":-150,"h":900},{"x":14.29,"l":-107,"h":907}],
"m5": [{"x":0,"m":0},{"x":0.03,"m":-82},{"x":0.1,"m":-36},{"x":0.17,"m":-173},{"x":0.24,"m":-100},{"x":0.31,"m":-218},{"x":0.38,"m":-355},{"x":0.45,"m":-200},{"x":0.48,"m":-445},{"x":0.55,"m":-150},{"x":0.6,"m":-250},{"x":0.66,"m":-309},{"x":0.73,"m":-270},{"x":0.8,"m":-545},{"x":0.87,"m":-264},{"x":0.94,"m":-445},{"x":1.0,"m":-218},{"x":1.07,"m":-490},{"x":1.14,"m":-240},{"x":1.21,"m":-400},{"x":1.26,"m":-300},{"x":1.32,"m":-173},{"x":1.39,"m":-545},{"x":1.46,"m":-309},{"x":1.52,"m":-127},{"x":1.59,"m":-309},{"x":1.66,"m":-218},{"x":1.73,"m":-264},{"x":1.8,"m":-127},{"x":1.87,"m":-309},{"x":1.94,"m":-150},{"x":2.0,"m":-120},{"x":2.04,"m":-82},{"x":2.1,"m":-60},{"x":2.18,"m":-36},{"x":2.25,"m":-30},{"x":2.32,"m":-14},{"x":2.4,"m":-5},{"x":2.46,"m":0},{"x":2.55,"m":-5},{"x":2.62,"m":0},{"x":2.67,"m":-10},{"x":2.7,"m":-36},{"x":2.73,"m":0},{"x":2.79,"m":2350},{"x":2.82,"m":1327},{"x":2.85,"m":300},{"x":2.88,"m":-241},{"x":2.91,"m":-150},{"x":2.94,"m":-82},{"x":3.0,"m":-120},{"x":3.05,"m":-150},{"x":3.1,"m":-100},{"x":3.15,"m":-130},{"x":3.2,"m":-110},{"x":3.25,"m":-150},{"x":3.3,"m":-120},{"x":3.35,"m":-140},{"x":3.4,"m":-105},{"x":3.45,"m":-150},{"x":3.5,"m":-120},{"x":3.55,"m":-135},{"x":3.6,"m":-110},{"x":3.65,"m":-170},{"x":3.7,"m":-120},{"x":3.8,"m":-140},{"x":3.9,"m":-110},{"x":4.0,"m":-130},{"x":4.1,"m":-115},{"x":4.2,"m":-125},{"x":4.3,"m":-110},{"x":4.4,"m":-105},{"x":4.5,"m":-90},{"x":4.6,"m":-80},{"x":4.7,"m":-60},{"x":4.8,"m":-70},{"x":4.9,"m":-40},{"x":5.0,"m":-30},{"x":5.1,"m":-10},{"x":5.2,"m":10},{"x":5.3,"m":64},{"x":5.33,"m":20},{"x":5.37,"m":214},{"x":5.42,"m":0},{"x":5.47,"m":150},{"x":5.51,"m":190},{"x":5.56,"m":-20},{"x":5.6,"m":100},{"x":5.65,"m":55},{"x":5.72,"m":-127},{"x":5.79,"m":373},{"x":5.86,"m":-36},{"x":5.93,"m":327},{"x":6.0,"m":464},{"x":6.06,"m":-264},{"x":6.13,"m":150},{"x":6.2,"m":418},{"x":6.25,"m":100},{"x":6.3,"m":-36},{"x":6.38,"m":441},{"x":6.43,"m":250},{"x":6.48,"m":200},{"x":6.53,"m":100},{"x":6.58,"m":0},{"x":6.62,"m":509},{"x":6.67,"m":200},{"x":6.72,"m":-82},{"x":6.79,"m":-173},{"x":6.86,"m":0},{"x":6.92,"m":250},{"x":6.96,"m":532},{"x":7.03,"m":300},{"x":7.1,"m":-36},{"x":7.17,"m":464},{"x":7.22,"m":200},{"x":7.27,"m":-127},{"x":7.34,"m":0},{"x":7.41,"m":418},{"x":7.46,"m":300},{"x":7.51,"m":691},{"x":7.55,"m":400},{"x":7.58,"m":327},{"x":7.65,"m":150},{"x":7.7,"m":300},{"x":7.76,"m":373},{"x":7.8,"m":150},{"x":7.83,"m":-36},{"x":7.88,"m":200},{"x":7.93,"m":509},{"x":8.0,"m":236},{"x":8.07,"m":55},{"x":8.14,"m":-127},{"x":8.2,"m":150},{"x":8.24,"m":282},{"x":8.3,"m":150},{"x":8.35,"m":100},{"x":8.41,"m":250},{"x":8.48,"m":236},{"x":8.55,"m":100},{"x":8.62,"m":55},{"x":8.68,"m":250},{"x":8.73,"m":236},{"x":8.78,"m":50},{"x":8.83,"m":-264},{"x":8.88,"m":50},{"x":8.93,"m":55},{"x":8.98,"m":200},{"x":9.04,"m":282},{"x":9.08,"m":100},{"x":9.11,"m":-36},{"x":9.16,"m":50},{"x":9.21,"m":-127},{"x":9.28,"m":-582},{"x":9.32,"m":-150},{"x":9.35,"m":-218},{"x":9.4,"m":282},{"x":9.44,"m":0},{"x":9.47,"m":-582},{"x":9.52,"m":-100},{"x":9.56,"m":-36},{"x":9.63,"m":282},{"x":9.7,"m":418},{"x":9.74,"m":300},{"x":9.77,"m":554},{"x":9.84,"m":736},{"x":9.88,"m":-218},{"x":9.93,"m":100},{"x":9.97,"m":100},{"x":10.03,"m":50},{"x":10.08,"m":55},{"x":10.13,"m":-100},{"x":10.18,"m":-445},{"x":10.24,"m":-100},{"x":10.29,"m":-36},{"x":10.34,"m":-200},{"x":10.39,"m":-491},{"x":10.44,"m":-100},{"x":10.49,"m":9},{"x":10.56,"m":-150},{"x":10.63,"m":145},{"x":10.7,"m":-100},{"x":10.77,"m":-173},{"x":10.84,"m":-491},{"x":10.89,"m":0},{"x":10.94,"m":145},{"x":11.0,"m":200},{"x":11.05,"m":418},{"x":11.1,"m":150},{"x":11.15,"m":100},{"x":11.2,"m":250},{"x":11.26,"m":464},{"x":11.31,"m":200},{"x":11.36,"m":-36},{"x":11.41,"m":150},{"x":11.46,"m":145},{"x":11.52,"m":0},{"x":11.57,"m":-127},{"x":11.62,"m":100},{"x":11.67,"m":236},{"x":11.72,"m":50},{"x":11.78,"m":-82},{"x":11.83,"m":150},{"x":11.88,"m":282},{"x":11.95,"m":150},{"x":12.02,"m":191},{"x":12.09,"m":250},{"x":12.16,"m":327},{"x":12.23,"m":200},{"x":12.3,"m":373},{"x":12.36,"m":250},{"x":12.43,"m":236},{"x":12.49,"m":300},{"x":12.54,"m":214},{"x":12.6,"m":250},{"x":12.64,"m":327},{"x":12.7,"m":300},{"x":12.78,"m":464},{"x":12.85,"m":350},{"x":12.92,"m":418},{"x":12.99,"m":450},{"x":13.06,"m":600},{"x":13.13,"m":520},{"x":13.2,"m":600},{"x":13.27,"m":650},{"x":13.33,"m":782},{"x":13.4,"m":650},{"x":13.47,"m":668},{"x":13.54,"m":720},{"x":13.61,"m":827},{"x":13.68,"m":760},{"x":13.75,"m":782},{"x":13.82,"m":820},{"x":13.89,"m":873},{"x":13.96,"m":820},{"x":14.03,"m":895},{"x":14.1,"m":941},{"x":14.17,"m":880},{"x":14.23,"m":900},{"x":14.29,"m":873}],
"b5": [{"x":0,"l":-36,"h":145},{"x":0.1,"l":-218,"h":236},{"x":0.17,"l":-330,"h":259},{"x":0.24,"l":-445,"h":240},{"x":0.38,"l":-627,"h":145},{"x":0.52,"l":-673,"h":77},{"x":0.66,"l":-660,"h":55},{"x":0.8,"l":-695,"h":30},{"x":0.94,"l":-680,"h":9},{"x":1.07,"l":-650,"h":-10},{"x":1.21,"l":-670,"h":-36},{"x":1.35,"l":-695,"h":-30},{"x":1.42,"l":-718,"h":-30},{"x":1.49,"l":-605,"h":-36},{"x":1.63,"l":-536,"h":-25},{"x":1.77,"l":-445,"h":9},{"x":1.9,"l":-309,"h":9},{"x":2.04,"l":-218,"h":9},{"x":2.18,"l":-150,"h":20},{"x":2.32,"l":-82,"h":32},{"x":2.6,"l":-36,"h":32},{"x":2.7,"l":-105,"h":32},{"x":2.74,"l":-150,"h":150},{"x":2.78,"l":-200,"h":1200},{"x":2.83,"l":-218,"h":2100},{"x":2.88,"l":-218,"h":1782},{"x":2.94,"l":-218,"h":873},{"x":3.0,"l":-195,"h":418},{"x":3.15,"l":-200,"h":191},{"x":3.36,"l":-218,"h":55},{"x":3.7,"l":-210,"h":-27},{"x":4.05,"l":-200,"h":-36},{"x":4.4,"l":-173,"h":-14},{"x":4.75,"l":-130,"h":32},{"x":5.1,"l":-82,"h":100},{"x":5.3,"l":-127,"h":168},{"x":5.37,"l":-264,"h":327},{"x":5.58,"l":-218,"h":373},{"x":5.72,"l":-309,"h":464},{"x":5.86,"l":-355,"h":554},{"x":6.0,"l":-330,"h":782},{"x":6.06,"l":-309,"h":700},{"x":6.13,"l":-380,"h":600},{"x":6.27,"l":-491,"h":800},{"x":6.34,"l":-500,"h":873},{"x":6.45,"l":-520,"h":986},{"x":6.48,"l":-536,"h":900},{"x":6.55,"l":-600,"h":782},{"x":6.69,"l":-673,"h":918},{"x":6.82,"l":-760,"h":880},{"x":6.9,"l":-854,"h":1150},{"x":6.96,"l":-820,"h":1191},{"x":7.03,"l":-700,"h":782},{"x":7.1,"l":-627,"h":1000},{"x":7.17,"l":-600,"h":1168},{"x":7.24,"l":-582,"h":1050},{"x":7.3,"l":-700,"h":1009},{"x":7.37,"l":-832,"h":950},{"x":7.44,"l":-700,"h":918},{"x":7.51,"l":-550,"h":1200},{"x":7.58,"l":-445,"h":1373},{"x":7.65,"l":-500,"h":1200},{"x":7.72,"l":-520,"h":1054},{"x":7.79,"l":-500,"h":1009},{"x":7.86,"l":-600,"h":1009},{"x":7.93,"l":-718,"h":1150},{"x":8.03,"l":-800,"h":1327},{"x":8.14,"l":-900,"h":1395},{"x":8.2,"l":-700,"h":1150},{"x":8.28,"l":-491,"h":964},{"x":8.38,"l":-450,"h":900},{"x":8.48,"l":-400,"h":873},{"x":8.6,"l":-500,"h":850},{"x":8.69,"l":-560,"h":827},{"x":8.76,"l":-582,"h":750},{"x":8.9,"l":-700,"h":645},{"x":8.97,"l":-764,"h":700},{"x":9.05,"l":-850,"h":900},{"x":9.11,"l":-900,"h":1054},{"x":9.18,"l":-945,"h":900},{"x":9.25,"l":-1050,"h":782},{"x":9.35,"l":-1218,"h":880},{"x":9.42,"l":-1150,"h":964},{"x":9.49,"l":-1127,"h":1000},{"x":9.56,"l":-1000,"h":1050},{"x":9.63,"l":-854,"h":1100},{"x":9.72,"l":-700,"h":1200},{"x":9.8,"l":-582,"h":1250},{"x":9.84,"l":-620,"h":1282},{"x":9.9,"l":-700,"h":1100},{"x":9.97,"l":-740,"h":918},{"x":10.01,"l":-764,"h":850},{"x":10.08,"l":-750,"h":750},{"x":10.15,"l":-740,"h":645},{"x":10.22,"l":-740,"h":550},{"x":10.29,"l":-850,"h":418},{"x":10.36,"l":-950,"h":500},{"x":10.42,"l":-1036,"h":645},{"x":10.5,"l":-1000,"h":750},{"x":10.63,"l":-1082,"h":873},{"x":10.7,"l":-900,"h":750},{"x":10.77,"l":-800,"h":645},{"x":10.84,"l":-764,"h":750},{"x":10.95,"l":-700,"h":850},{"x":11.05,"l":-627,"h":964},{"x":11.15,"l":-700,"h":1000},{"x":11.26,"l":-809,"h":1054},{"x":11.36,"l":-750,"h":800},{"x":11.46,"l":-673,"h":645},{"x":11.55,"l":-760,"h":800},{"x":11.67,"l":-854,"h":918},{"x":11.78,"l":-650,"h":750},{"x":11.88,"l":-445,"h":554},{"x":11.98,"l":-500,"h":700},{"x":12.09,"l":-582,"h":800},{"x":12.16,"l":-520,"h":873},{"x":12.23,"l":-480,"h":950},{"x":12.3,"l":-445,"h":960},{"x":12.43,"l":-400,"h":1009},{"x":12.5,"l":-360,"h":900},{"x":12.54,"l":-332,"h":736},{"x":12.7,"l":-280,"h":800},{"x":12.85,"l":-218,"h":873},{"x":13.0,"l":-180,"h":1030},{"x":13.13,"l":-150,"h":1191},{"x":13.3,"l":-120,"h":1330},{"x":13.47,"l":-100,"h":1464},{"x":13.65,"l":-60,"h":1540},{"x":13.82,"l":-36,"h":1600},{"x":13.95,"l":10,"h":1650},{"x":14.1,"l":55,"h":1700},{"x":14.29,"l":77,"h":1714}]
},
"bounds": "flush",
"spacing": 16.5,
"resolve": {"scale": {"x": "independent", "y": "independent", "color": "independent"}, "legend": {"color": "independent"}},
"vconcat": [
{
 "width": 688, "height": 289.5,
 "encoding": {"x": {"field": "x", "type": "quantitative", "scale": {"domain": [0, 14.29], "nice": false, "zero": false}, "axis": {"values": [0,2,4,6,8,10,12,14], "labels": false, "title": null}}},
 "layer": [
  {"data": {"name": "b1"}, "mark": {"type": "area", "color": "#b2b2ff", "opacity": 1}, "encoding": {"y": {"field": "l", "type": "quantitative", "scale": {"domain": [-1153, 3122], "nice": false, "zero": false}, "axis": {"title": "Effort", "values": [-1000,-500,0,500,1000,1500,2000,2500,3000], "format": "d"}}, "y2": {"field": "h"}}},
  {"data": {"name": "vl"}, "mark": {"type": "rule", "color": "#f06262", "strokeWidth": 1.2}, "encoding": {}},
  {"data": {"name": "m1"}, "mark": {"type": "line", "strokeWidth": 1.5}, "encoding": {"y": {"field": "m", "type": "quantitative", "axis": {"title": "Effort", "values": [-1000,-500,0,500,1000,1500,2000,2500,3000], "format": "d"}}, "color": {"datum": "Coxa Mean", "type": "nominal", "scale": {"range": ["#000000"]}, "legend": {"title": null}}}},
  {"data": {"name": "lt"}, "mark": {"type": "text", "fontSize": 25, "font": "DejaVu Sans", "color": "#000", "baseline": "middle", "align": "center"}, "encoding": {"y": {"datum": -960, "type": "quantitative", "axis": {"title": "Effort", "values": [-1000,-500,0,500,1000,1500,2000,2500,3000], "format": "d"}}, "text": {"field": "t"}}}
 ]
},
{
 "width": 688, "height": 289.5,
 "encoding": {"x": {"field": "x", "type": "quantitative", "scale": {"domain": [0, 14.29], "nice": false, "zero": false}, "axis": {"values": [0,2,4,6,8,10,12,14], "labels": false, "title": null}}},
 "layer": [
  {"data": {"name": "b2"}, "mark": {"type": "area", "color": "#b2b2ff", "opacity": 1}, "encoding": {"y": {"field": "l", "type": "quantitative", "scale": {"domain": [-492, 540], "nice": false, "zero": false}, "axis": {"title": "Effort", "values": [-400,-200,0,200,400], "format": "d"}}, "y2": {"field": "h"}}},
  {"data": {"name": "vl"}, "mark": {"type": "rule", "color": "#f06262", "strokeWidth": 1.2}, "encoding": {}},
  {"data": {"name": "m2"}, "mark": {"type": "line", "strokeWidth": 1.5}, "encoding": {"y": {"field": "m", "type": "quantitative", "axis": {"title": "Effort", "values": [-400,-200,0,200,400], "format": "d"}}, "color": {"datum": "Coxat Mean", "type": "nominal", "scale": {"range": ["#000000"]}, "legend": {"title": null}}}},
  {"data": {"name": "lt"}, "mark": {"type": "text", "fontSize": 25, "font": "DejaVu Sans", "color": "#000", "baseline": "middle", "align": "center"}, "encoding": {"y": {"datum": -446, "type": "quantitative", "axis": {"title": "Effort", "values": [-400,-200,0,200,400], "format": "d"}}, "text": {"field": "t"}}}
 ]
},
{
 "width": 688, "height": 289.5,
 "encoding": {"x": {"field": "x", "type": "quantitative", "scale": {"domain": [0, 14.29], "nice": false, "zero": false}, "axis": {"values": [0,2,4,6,8,10,12,14], "labels": false, "title": null}}},
 "layer": [
  {"data": {"name": "b3"}, "mark": {"type": "area", "color": "#b2b2ff", "opacity": 1}, "encoding": {"y": {"field": "l", "type": "quantitative", "scale": {"domain": [-1125, 1983], "nice": false, "zero": false}, "axis": {"title": "Effort", "values": [-1000,-500,0,500,1000,1500], "format": "d"}}, "y2": {"field": "h"}}},
  {"data": {"name": "vl"}, "mark": {"type": "rule", "color": "#f06262", "strokeWidth": 1.2}, "encoding": {}},
  {"data": {"name": "m3"}, "mark": {"type": "line", "strokeWidth": 1.5}, "encoding": {"y": {"field": "m", "type": "quantitative", "axis": {"title": "Effort", "values": [-1000,-500,0,500,1000,1500], "format": "d"}}, "color": {"datum": "Femur Mean", "type": "nominal", "scale": {"range": ["#000000"]}, "legend": {"title": null}}}},
  {"data": {"name": "lt"}, "mark": {"type": "text", "fontSize": 25, "font": "DejaVu Sans", "color": "#000", "baseline": "middle", "align": "center"}, "encoding": {"y": {"datum": -985, "type": "quantitative", "axis": {"title": "Effort", "values": [-1000,-500,0,500,1000,1500], "format": "d"}}, "text": {"field": "t"}}}
 ]
},
{
 "width": 688, "height": 289.5,
 "encoding": {"x": {"field": "x", "type": "quantitative", "scale": {"domain": [0, 14.29], "nice": false, "zero": false}, "axis": {"values": [0,2,4,6,8,10,12,14], "labels": false, "title": null}}},
 "layer": [
  {"data": {"name": "b4"}, "mark": {"type": "area", "color": "#b2b2ff", "opacity": 1}, "encoding": {"y": {"field": "l", "type": "quantitative", "scale": {"domain": [-2819, 1813], "nice": false, "zero": false}, "axis": {"title": "Effort", "values": [-2000,-1000,0,1000], "format": "d"}}, "y2": {"field": "h"}}},
  {"data": {"name": "vl"}, "mark": {"type": "rule", "color": "#f06262", "strokeWidth": 1.2}, "encoding": {}},
  {"data": {"name": "m4"}, "mark": {"type": "line", "strokeWidth": 1.5}, "encoding": {"y": {"field": "m", "type": "quantitative", "axis": {"title": "Effort", "values": [-2000,-1000,0,1000], "format": "d"}}, "color": {"datum": "Tibia Mean", "type": "nominal", "scale": {"range": ["#000000"]}, "legend": {"title": null}}}},
  {"data": {"name": "lt"}, "mark": {"type": "text", "fontSize": 25, "font": "DejaVu Sans", "color": "#000", "baseline": "middle", "align": "center"}, "encoding": {"y": {"datum": -2610, "type": "quantitative", "axis": {"title": "Effort", "values": [-2000,-1000,0,1000], "format": "d"}}, "text": {"field": "t"}}}
 ]
},
{
 "width": 688, "height": 289.5,
 "encoding": {"x": {"field": "x", "type": "quantitative", "scale": {"domain": [0, 14.29], "nice": false, "zero": false}, "axis": {"values": [0,2,4,6,8,10,12,14], "format": "d", "title": "Time (sec)"}}},
 "layer": [
  {"data": {"name": "b5"}, "mark": {"type": "area", "color": "#b2b2ff", "opacity": 1}, "encoding": {"y": {"field": "l", "type": "quantitative", "scale": {"domain": [-1432, 2522], "nice": false, "zero": false}, "axis": {"title": "Effort", "values": [-1000,-500,0,500,1000,1500,2000,2500], "format": "d"}}, "y2": {"field": "h"}}},
  {"data": {"name": "vl"}, "mark": {"type": "rule", "color": "#f06262", "strokeWidth": 1.2}, "encoding": {}},
  {"data": {"name": "m5"}, "mark": {"type": "line", "strokeWidth": 1.5}, "encoding": {"y": {"field": "m", "type": "quantitative", "axis": {"title": "Effort", "values": [-1000,-500,0,500,1000,1500,2000,2500], "format": "d"}}, "color": {"datum": "Tarsus Mean", "type": "nominal", "scale": {"range": ["#000000"]}, "legend": {"title": null}}}},
  {"data": {"name": "lt"}, "mark": {"type": "text", "fontSize": 25, "font": "DejaVu Sans", "color": "#000", "baseline": "middle", "align": "center"}, "encoding": {"y": {"datum": -1255, "type": "quantitative", "axis": {"title": "Effort", "values": [-1000,-500,0,500,1000,1500,2000,2500], "format": "d"}}, "text": {"field": "t"}}}
 ]
}
]
}
